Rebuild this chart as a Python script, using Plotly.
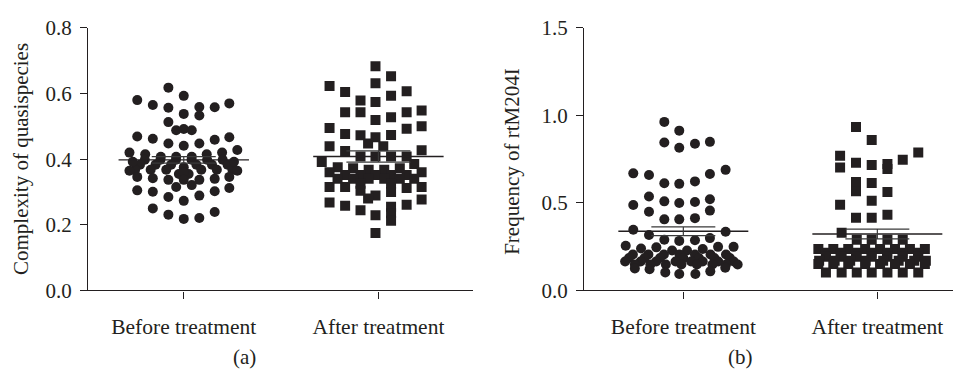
import plotly.graph_objects as go

categories = ["Before treatment", "After treatment"]
panel_labels = ["(a)", "(b)"]
ytitles = ["Complexity of quasispecies", "Frequency of rtM204I"]

# ---- Panel (a): complexity of quasispecies ----
a_before_vals = [
    0.618, 0.593, 0.580, 0.565, 0.557, 0.559, 0.558, 0.570, 0.538, 0.533,
    0.513, 0.488, 0.492, 0.488, 0.469, 0.462, 0.448, 0.441, 0.448, 0.459,
    0.467, 0.420, 0.415, 0.407, 0.407, 0.407, 0.415, 0.420, 0.428,
    0.398, 0.383, 0.368, 0.398, 0.383, 0.368, 0.398, 0.383, 0.368,
    0.398, 0.383, 0.368, 0.398, 0.383, 0.368, 0.398, 0.383, 0.368,
    0.375, 0.355, 0.355, 0.360, 0.365, 0.365, 0.392, 0.392,
    0.346, 0.342, 0.337, 0.337, 0.337, 0.340, 0.346, 0.315, 0.321,
    0.305, 0.301, 0.285, 0.273, 0.289, 0.302, 0.312,
    0.250, 0.231, 0.218, 0.221, 0.239,
]
a_before_off = [
    -0.079, 0.000, -0.239, -0.159, -0.079, 0.080, 0.159, 0.234, 0.000, 0.080,
    -0.079, -0.039, 0.000, 0.041, -0.239, -0.159, -0.079, 0.000, 0.080, 0.159,
    0.234, -0.279, -0.198, -0.118, -0.039, 0.041, 0.118, 0.197, 0.275,
    -0.200, -0.225, -0.250, -0.120, -0.145, -0.170, -0.040, -0.065, -0.090,
    0.040, 0.065, 0.090, 0.120, 0.145, 0.170, 0.200, 0.225, 0.250,
    0.000, -0.025, 0.025, 0.000, -0.279, 0.275, -0.262, 0.258,
    -0.239, -0.159, -0.079, 0.000, 0.080, 0.159, 0.234, -0.039, 0.041,
    -0.239, -0.159, -0.079, 0.000, 0.080, 0.159, 0.234,
    -0.159, -0.079, 0.000, 0.080, 0.159,
]
a_after_vals = [
    0.683, 0.653, 0.623, 0.605, 0.631, 0.607, 0.579, 0.574, 0.593, 0.543,
    0.543, 0.519, 0.528, 0.543, 0.548, 0.495, 0.500, 0.493, 0.477, 0.473,
    0.467, 0.474, 0.448, 0.439, 0.439, 0.427, 0.425, 0.408, 0.408, 0.408,
    0.408, 0.391, 0.385,
    0.375, 0.372, 0.368, 0.368, 0.372, 0.360, 0.360,
    0.352, 0.352, 0.352, 0.352, 0.352,
    0.340, 0.340, 0.340, 0.340, 0.340, 0.340, 0.325, 0.325,
    0.315, 0.315, 0.312, 0.315, 0.304, 0.289, 0.280, 0.300,
    0.268, 0.258, 0.244, 0.229, 0.255, 0.235, 0.212, 0.261, 0.277, 0.175,
]
a_after_off = [
    -0.015, 0.065, -0.251, -0.171, -0.015, 0.145, -0.092, -0.015, 0.065, -0.171,
    -0.092, -0.015, 0.065, 0.145, 0.222, -0.251, 0.222, 0.145, -0.171, -0.092,
    -0.015, 0.065, -0.053, 0.025, -0.251, 0.222, -0.171, -0.092, -0.015, 0.065,
    0.145, -0.291, 0.184,
    -0.209, -0.130, -0.050, 0.030, 0.110, -0.251, 0.222,
    -0.171, -0.092, -0.015, 0.065, 0.145,
    -0.210, -0.130, -0.050, 0.030, 0.110, 0.184, -0.092, 0.065,
    -0.251, -0.171, 0.145, 0.222, -0.092, -0.015, -0.053, 0.065,
    -0.251, -0.171, -0.092, -0.015, 0.065, 0.065, 0.065, 0.145, 0.222, -0.015,
]
a_means = [0.398, 0.408]
a_sems = [0.010, 0.017]

# ---- Panel (b): frequency of rtM204I ----
b_before_vals = [
    0.963, 0.913, 0.845, 0.815, 0.838, 0.849, 0.669, 0.660, 0.612, 0.609,
    0.623, 0.665, 0.689, 0.488, 0.537, 0.509, 0.500, 0.505, 0.521, 0.450,
    0.406, 0.406, 0.413, 0.456, 0.347, 0.317, 0.335, 0.290, 0.283, 0.287,
    0.299, 0.255, 0.240, 0.246, 0.228, 0.228, 0.237, 0.249, 0.249,
    0.205, 0.205, 0.205, 0.205, 0.205, 0.205, 0.205,
    0.185, 0.185, 0.185, 0.185, 0.185, 0.185, 0.185,
    0.165, 0.165, 0.165, 0.165, 0.165, 0.165, 0.165, 0.165,
    0.148, 0.148, 0.148, 0.148, 0.148, 0.148, 0.148, 0.148,
    0.125, 0.121, 0.103, 0.094, 0.094, 0.109, 0.130,
]
b_before_off = [
    -0.098, -0.021, -0.098, -0.021, 0.060, 0.137, -0.258, -0.177, -0.098, -0.021,
    0.060, 0.137, 0.218, -0.258, -0.177, -0.098, -0.021, 0.060, 0.137, -0.177,
    -0.098, -0.021, 0.060, 0.137, -0.258, -0.177, 0.218, -0.098, -0.021, 0.060,
    0.137, -0.297, -0.218, -0.139, -0.058, 0.019, 0.100, 0.179, 0.259,
    -0.260, -0.180, -0.100, -0.020, 0.060, 0.140, 0.220,
    -0.280, -0.200, -0.120, 0.000, 0.080, 0.160, 0.240,
    -0.300, -0.220, -0.140, -0.040, 0.040, 0.100, 0.180, 0.260,
    -0.250, -0.170, -0.090, -0.010, 0.070, 0.150, 0.220, 0.280,
    -0.250, -0.174, -0.093, -0.021, 0.062, 0.139, 0.216,
]
b_after_vals = [
    0.934, 0.859, 0.770, 0.703, 0.730, 0.717, 0.722, 0.694, 0.747, 0.788,
    0.619, 0.566, 0.614, 0.562, 0.512, 0.489, 0.415, 0.415, 0.432, 0.329,
    0.290, 0.290, 0.290, 0.290,
    0.237, 0.237, 0.237, 0.237, 0.237, 0.237, 0.237, 0.237,
    0.215, 0.215, 0.215, 0.215, 0.215, 0.215, 0.215,
    0.192, 0.192, 0.192, 0.192, 0.192, 0.192, 0.192,
    0.170, 0.170, 0.170, 0.170, 0.170, 0.170, 0.170, 0.170,
    0.151, 0.151, 0.151, 0.151, 0.151, 0.151, 0.151, 0.151,
    0.103, 0.103, 0.103, 0.103, 0.103, 0.103, 0.103,
]
b_after_off = [
    -0.110, -0.029, -0.192, -0.192, -0.110, -0.029, 0.052, 0.052, 0.131, 0.211,
    -0.110, -0.110, -0.029, 0.052, -0.029, -0.192, -0.110, -0.029, 0.052, -0.184,
    -0.106, -0.029, 0.052, 0.131,
    -0.304, -0.227, -0.150, -0.063, 0.014, 0.091, 0.168, 0.245,
    -0.265, -0.190, -0.110, -0.030, 0.050, 0.130, 0.210,
    -0.265, -0.184, -0.106, -0.029, 0.052, 0.131, 0.211,
    -0.300, -0.220, -0.140, -0.060, 0.030, 0.110, 0.190, 0.250,
    -0.304, -0.227, -0.150, -0.063, 0.014, 0.091, 0.168, 0.245,
    -0.265, -0.184, -0.106, -0.029, 0.052, 0.131, 0.211,
]
b_means = [0.338, 0.322]
b_sems = [0.025, 0.028]

a_yticks = [0.0, 0.2, 0.4, 0.6, 0.8]
b_yticks = [0.0, 0.5, 1.0, 1.5]

INK = "#231f20"
FONT = "Liberation Serif"
FS = 21
W, H = 960, 378

fig = go.Figure()


def add_panel(xa, ya, before_vals, before_off, after_vals, after_off, means, sems):
    fig.add_trace(go.Scatter(
        x=[0 + o for o in before_off], y=before_vals, mode="markers",
        marker=dict(symbol="circle", size=10, color=INK, line=dict(width=0)),
        xaxis=xa, yaxis=ya, showlegend=False, hoverinfo="skip"))
    fig.add_trace(go.Scatter(
        x=[1 + o for o in after_off], y=after_vals, mode="markers",
        marker=dict(symbol="square", size=10, color=INK, line=dict(width=0)),
        xaxis=xa, yaxis=ya, showlegend=False, hoverinfo="skip"))
    for i, (m, s) in enumerate(zip(means, sems)):
        fig.add_trace(go.Scatter(
            x=[i - 0.335, i + 0.335], y=[m, m], mode="lines",
            line=dict(color=INK, width=1.4),
            xaxis=xa, yaxis=ya, showlegend=False, hoverinfo="skip"))
        fig.add_trace(go.Scatter(
            x=[i], y=[m], mode="markers", marker=dict(size=0.1, color="rgba(0,0,0,0)"),
            error_y=dict(type="data", array=[s], symmetric=True, color="#3a3a3a",
                         thickness=1.2, width=32),
            xaxis=xa, yaxis=ya, showlegend=False, hoverinfo="skip"))


add_panel("x", "y", a_before_vals, a_before_off, a_after_vals, a_after_off, a_means, a_sems)
add_panel("x2", "y2", b_before_vals, b_before_off, b_after_vals, b_after_off, b_means, b_sems)

ydom = [1 - 297.3 / H, 1 - 17 / H]
axis_common = dict(showline=True, linecolor=INK, linewidth=1.3, ticks="outside",
                   ticklen=7, tickwidth=1.2, tickcolor=INK, showgrid=False,
                   zeroline=False)

fig.update_layout(
    width=W, height=H, margin=dict(l=0, r=0, t=0, b=0),
    paper_bgcolor="white", plot_bgcolor="white",
    xaxis=dict(domain=[88 / W, 473 / W], range=[-0.492, 1.486], tickvals=[0, 1],
               ticktext=categories, anchor="y", ticklabelstandoff=10,
               tickfont=dict(family=FONT, size=21.5, color=INK), **axis_common),
    yaxis=dict(domain=ydom, range=[0, 0.8], tickvals=a_yticks, tickformat=".1f",
               anchor="x", ticklabelstandoff=4,
               tickfont=dict(family=FONT, size=FS, color=INK), **axis_common),
    xaxis2=dict(domain=[584 / W, 953 / W], range=[-0.512, 1.39], tickvals=[0, 1],
                ticktext=categories, anchor="y2", ticklabelstandoff=10,
                tickfont=dict(family=FONT, size=21.5, color=INK), **axis_common),
    yaxis2=dict(domain=ydom, range=[0, 1.5], tickvals=b_yticks, tickformat=".1f",
                anchor="x2", ticklabelstandoff=4,
                tickfont=dict(family=FONT, size=FS, color=INK), **axis_common),
)

fig.add_annotation(text=ytitles[0], x=21 / W, y=1 - 157 / H, xref="paper", yref="paper",
                   textangle=-90, showarrow=False, xanchor="center", yanchor="middle",
                   font=dict(family=FONT, size=FS, color=INK))
fig.add_annotation(text=ytitles[1], x=512 / W, y=1 - 160 / H, xref="paper", yref="paper",
                   textangle=-90, showarrow=False, xanchor="center", yanchor="middle",
                   font=dict(family=FONT, size=FS, color=INK))
fig.add_annotation(text=panel_labels[0], x=245 / W, y=1 - 368 / H, xref="paper", yref="paper",
                   showarrow=False, xanchor="center", yanchor="middle",
                   font=dict(family=FONT, size=FS, color=INK))
fig.add_annotation(text=panel_labels[1], x=740 / W, y=1 - 368 / H, xref="paper", yref="paper",
                   showarrow=False, xanchor="center", yanchor="middle",
                   font=dict(family=FONT, size=FS, color=INK))

fig.write_html("out.html")
